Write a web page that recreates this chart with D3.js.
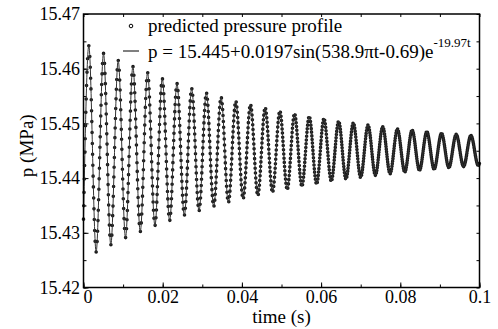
<!DOCTYPE html>
<html>
<head>
<meta charset="utf-8">
<script src="https://cdn.jsdelivr.net/npm/d3@7"></script>
<style>
body { margin: 0; background: #fff; }
text { font-family: "Liberation Serif", "Times New Roman", serif; fill: #000; }
</style>
</head>
<body>
<div id="chart"></div>
<script>
// local maxima of the pressure trace (s, MPa)
var peakTime = [0.00134, 0.00505, 0.00876, 0.01247, 0.01618, 0.01989, 0.02360, 0.02731, 0.03103,
    0.03474, 0.03845, 0.04216, 0.04587, 0.04958, 0.05329, 0.05700, 0.06072, 0.06443, 0.06814,
    0.07185, 0.07556, 0.07927, 0.08298, 0.08670, 0.09041, 0.09412, 0.09783];
var peakP = [15.4642, 15.4628, 15.4615, 15.4604, 15.4593, 15.4582, 15.4573, 15.4564, 15.4556,
    15.4548, 15.4541, 15.4535, 15.4529, 15.4523, 15.4518, 15.4513, 15.4509, 15.4504, 15.4501,
    15.4497, 15.4494, 15.4490, 15.4488, 15.4485, 15.4482, 15.4480, 15.4478];

// local minima
var troughTime = [0.00319, 0.00690, 0.01061, 0.01433, 0.01804, 0.02175, 0.02546, 0.02917, 0.03288,
    0.03659, 0.04030, 0.04402, 0.04773, 0.05144, 0.05515, 0.05886, 0.06257, 0.06628, 0.06999,
    0.07371, 0.07742, 0.08113, 0.08484, 0.08855, 0.09226, 0.09597, 0.09968];
var troughP = [15.4265, 15.4278, 15.4291, 15.4302, 15.4313, 15.4322, 15.4332, 15.4340, 15.4348,
    15.4355, 15.4362, 15.4368, 15.4374, 15.4379, 15.4385, 15.4389, 15.4394, 15.4398, 15.4401,
    15.4405, 15.4408, 15.4411, 15.4414, 15.4416, 15.4419, 15.4421, 15.4423];

// first and last sample
var edgeTime = [0, 0.1];
var edgeP = [15.4325, 15.4427];

var xTicks = [0, 0.02, 0.04, 0.06, 0.08, 0.1];
var xTickLabels = ["0", "0.02", "0.04", "0.06", "0.08", "0.1"];
var yTicks = [15.42, 15.43, 15.44, 15.45, 15.46, 15.47];
var yTickLabels = ["15.42", "15.43", "15.44", "15.45", "15.46", "15.47"];
var legendLabels = ["predicted pressure profile", "p = 15.445+0.0197sin(538.9\u03c0t-0.69)e"];
var legendExponent = "-19.97t";

var sampleStep = 0.0001; // spacing of the predicted profile markers (s)

var margin = {top: 14, right: 18.5, bottom: 41.5, left: 83.5},
    width = 498 - margin.left - margin.right,
    height = 329 - margin.top - margin.bottom;

var svg = d3.select("#chart")
    .append("svg")
    .attr("width", 498)
    .attr("height", 329)
    .append("g")
        .attr("transform", "translate(" + margin.left + "," + margin.top + ")");

var x = d3.scaleLinear().domain([0, 0.1]).range([0, width]);
var y = d3.scaleLinear().domain([15.42, 15.47]).range([height, 0]);

var xMinor = d3.range(11).map(i => i / 100);
var yMinor = d3.range(11).map(i => 15.42 + i * 0.005);

function styleAxis(g) {
    g.attr("font-family", null).attr("font-size", null);
    g.select(".domain").remove();
    g.selectAll("line").attr("stroke", "#000").attr("stroke-width", 1);
    g.selectAll("text").style("font-size", "18px");
}

// minor ticks on all four sides (inward)
svg.append("g").attr("transform", "translate(0," + height + ")")
    .call(d3.axisBottom(x).tickValues(xMinor).tickSize(-3).tickFormat(""))
    .call(styleAxis);
svg.append("g")
    .call(d3.axisTop(x).tickValues(xMinor).tickSize(-3).tickFormat(""))
    .call(styleAxis);
svg.append("g")
    .call(d3.axisLeft(y).tickValues(yMinor).tickSize(-3).tickFormat(""))
    .call(styleAxis);
svg.append("g").attr("transform", "translate(" + width + ",0)")
    .call(d3.axisRight(y).tickValues(yMinor).tickSize(-3).tickFormat(""))
    .call(styleAxis);

// labelled axes
var xAxisG = svg.append("g").attr("transform", "translate(0," + height + ")")
    .call(d3.axisBottom(x).tickValues(xTicks).tickFormat((d, i) => xTickLabels[i])
        .tickSizeInner(-5).tickSizeOuter(0).tickPadding(3))
    .call(styleAxis);
xAxisG.selectAll("text").filter((d, i) => i === 0).attr("dx", 4);

svg.append("g")
    .call(d3.axisLeft(y).tickValues(yTicks).tickFormat((d, i) => yTickLabels[i])
        .tickSizeInner(-5).tickSizeOuter(0).tickPadding(3.5))
    .call(styleAxis);

// axis titles
svg.append("text")
    .attr("x", width / 2)
    .attr("y", height + 35)
    .attr("text-anchor", "middle")
    .style("font-size", "19px")
    .text("time (s)");

svg.append("text")
    .attr("transform", "rotate(-90)")
    .attr("x", -height / 2 + 5)
    .attr("y", -margin.left + 33)
    .attr("text-anchor", "middle")
    .style("font-size", "19px")
    .text("p (MPa)");

// build the trace from the read extrema
var pts = [];
edgeTime.forEach((t, i) => pts.push({t: t, p: edgeP[i]}));
peakTime.forEach((t, i) => pts.push({t: t, p: peakP[i]}));
troughTime.forEach((t, i) => pts.push({t: t, p: troughP[i]}));
pts.sort((a, b) => a.t - b.t);

var line = d3.line()
    .x(d => x(d.t))
    .y(d => y(d.p))
    .curve(d3.curveMonotoneX);

// marker string: dots along the same curve, spaced per half cycle
var markerPath = svg.append("path")
    .datum(pts)
    .attr("d", line)
    .attr("fill", "none")
    .attr("stroke", "#1a1a1a")
    .attr("stroke-width", 3.6)
    .attr("stroke-linecap", "round");

var node = markerPath.node();
var total = node.getTotalLength();

function lengthAtX(px) {
    var lo = 0, hi = total;
    for (var k = 0; k < 30; k++) {
        var mid = (lo + hi) / 2;
        if (node.getPointAtLength(mid).x < px) lo = mid; else hi = mid;
    }
    return (lo + hi) / 2;
}

var knotLen = pts.map(d => lengthAtX(x(d.t)));
knotLen[0] = 0;
knotLen[knotLen.length - 1] = total;
var dash = [];
for (var i = 0; i < pts.length - 1; i++) {
    var n = Math.max(1, Math.round((pts[i + 1].t - pts[i].t) / sampleStep));
    var gap = (knotLen[i + 1] - knotLen[i]) / n;
    for (var k = 0; k < n; k++) dash.push(0, gap);
}
markerPath.attr("stroke-dasharray", dash.map(v => v.toFixed(3)).join(" "));

// fitted line
svg.append("path")
    .datum(pts)
    .attr("d", line)
    .attr("fill", "none")
    .attr("stroke", "#333")
    .attr("stroke-width", 1);

// frame
svg.append("rect")
    .attr("width", width)
    .attr("height", height)
    .attr("fill", "none")
    .attr("stroke", "#000")
    .attr("stroke-width", 1.5);

// legend
var legend = svg.append("g").attr("transform", "translate(" + (-margin.left) + "," + (-margin.top) + ")");
legend.append("circle")
    .attr("cx", 131).attr("cy", 26).attr("r", 1.8)
    .attr("fill", "#fff").attr("stroke", "#000").attr("stroke-width", 1);
legend.append("text")
    .attr("x", 148).attr("y", 32)
    .style("font-size", "19px")
    .text(legendLabels[0]);
legend.append("line")
    .attr("x1", 123).attr("x2", 139).attr("y1", 51).attr("y2", 51)
    .attr("stroke", "#000").attr("stroke-width", 1);
var t2 = legend.append("text")
    .attr("x", 148).attr("y", 58)
    .style("font-size", "19px");
t2.append("tspan").text(legendLabels[1]);
t2.append("tspan")
    .attr("dy", -11)
    .style("font-size", "13px")
    .text(legendExponent);
</script>
</body>
</html>
